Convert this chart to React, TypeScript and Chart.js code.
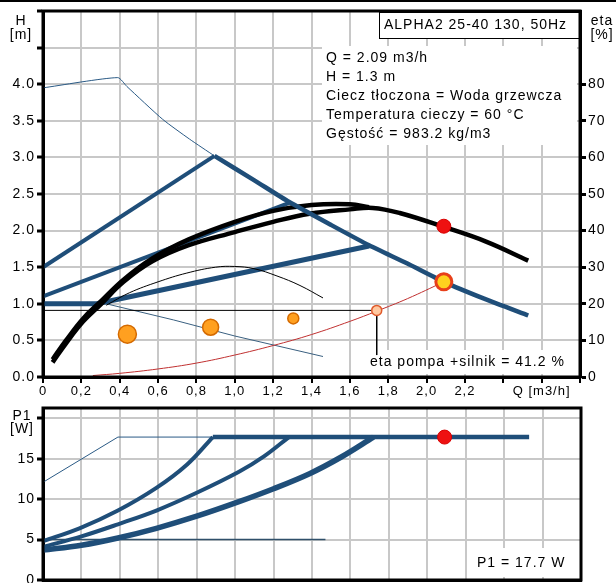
import React, { useEffect, useRef } from 'react';
import { Chart, registerables } from 'chart.js';
Chart.register(...registerables);

const FONT = "'Liberation Sans', Arial, sans-serif";
Chart.defaults.font.family = FONT;

// ---------- axes ----------
const Q_MIN = 0;
const Q_MAX = 2.8;
const Q_TICKS = [0, 0.2, 0.4, 0.6, 0.8, 1.0, 1.2, 1.4, 1.6, 1.8, 2.0, 2.2, 2.4, 2.6, 2.8];
const Q_LABELS = ['0', '0,2', '0,4', '0,6', '0,8', '1,0', '1,2', '1,4', '1,6', '1,8', '2,0', '2,2', '', 'Q [m3/h]', ''];
const H_MAX = 5;
const H_TICKS = [0, 0.5, 1, 1.5, 2, 2.5, 3, 3.5, 4, 4.5, 5];
const H_LABELS = ['0.0', '0.5', '1.0', '1.5', '2.0', '2.5', '3.0', '3.5', '4.0', '', ''];
const ETA_MAX = 100;
const ETA_TICKS = [0, 10, 20, 30, 40, 50, 60, 70, 80];
const ETA_LABELS = ['0', '10', '20', '30', '40', '50', '60', '70', '80'];
const P1_AXIS_MAX = 21.3;
const P1_TICKS = [0, 5, 10, 15, 20];
const P1_LABELS = ['0', '5', '10', '15', ''];

// ---------- texts ----------
const TITLE = 'ALPHA2 25-40 130, 50Hz';
const INFO_LINES = [
  'Q = 2.09 m3/h',
  'H = 1.3 m',
  'Ciecz tłoczona = Woda grzewcza',
  'Temperatura cieczy = 60 °C',
  'Gęstość = 983.2 kg/m3',
];
const ETA_TEXT = 'eta pompa +silnik = 41.2 %';
const P1_TEXT = 'P1 = 17.7 W';

// ---------- H(Q) curves ----------
const MAXC_Q = [0, 0.39, 0.437, 0.624, 0.764, 0.894];
const MAXC_H = [3.95, 4.09, 3.97, 3.52, 3.25, 3.02];
const PP_HIGH_Q = [0, 0.894];
const PP_HIGH_H = [1.5, 3.02];
const PP_MID_Q = [0, 1.284];
const PP_MID_H = [1.1, 2.38];
const PP_LOW_Q = [0, 0.28, 1.70];
const PP_LOW_H = [1.0, 1.0, 1.79];
const SPEED_Q = [0.894, 1.1, 1.284, 1.5, 1.70, 1.9, 2.09, 2.3, 2.53];
const SPEED_H = [3.02, 2.69, 2.39, 2.08, 1.80, 1.55, 1.30, 1.07, 0.84];
const MIN_Q = [0, 0.33, 0.68, 1.0, 1.46];
const MIN_H = [1.0, 1.0, 0.78, 0.56, 0.28];
const SYS_Q = [0.26, 0.4, 0.6, 0.8, 1.0, 1.2, 1.4, 1.6, 1.74, 1.9, 2.09];
const SYS_H = [0.02, 0.05, 0.11, 0.19, 0.3, 0.43, 0.58, 0.76, 0.9, 1.07, 1.3];
const REF_Q = [0, 1.74, 1.74];
const REF_H = [0.91, 0.91, 0.30];

// ---------- eta(Q) curves [%] ----------
const ETA_A_Q = [0.05, 0.12, 0.21, 0.3, 0.42, 0.57, 0.76, 1.0, 1.2, 1.4, 1.6, 1.7];
const ETA_A = [4.8, 10, 16, 20.6, 26.6, 32.4, 37.6, 42.4, 45.4, 47, 47.2, 46.4];
const ETA_B_Q = [0.05, 0.12, 0.21, 0.3, 0.42, 0.57, 0.76, 1.0, 1.2, 1.39, 1.6, 1.72, 1.86, 2.09, 2.31, 2.53];
const ETA_B = [4, 9.2, 15.2, 19.8, 26, 31.6, 36, 39.6, 42.4, 44.6, 45.8, 46.2, 44.8, 41, 37, 31.8];
const ETA_MIN_Q = [0.33, 0.45, 0.6, 0.75, 0.9, 1.0, 1.1, 1.22, 1.34, 1.46];
const ETA_MIN = [19.6, 23, 26, 28.4, 30, 30.2, 29.6, 27.6, 25, 21.6];

// ---------- markers ----------
const ORANGE_Q = [0.44, 0.874, 1.305];
const ORANGE_H = [0.585, 0.68, 0.8];
const ORANGE_R = [9, 8, 5.5];
const RING_Q = [1.74];
const RING_H = [0.91];
const OP_Q = [2.09];
const OP_H = [1.3];
const OP_ETA = [41.2];
const OP_P1 = [17.7];

// ---------- P1(Q) curves ----------
const P1_MAXC_Q = [0, 0.39, 0.884];
const P1_MAXC = [12.1, 17.7, 17.7];
const P1_FLAT_Q = [0.884, 2.53];
const P1_FLAT = [17.7, 17.7];
const P1_C1_Q = [0, 0.19, 0.39, 0.59, 0.75, 0.884];
const P1_C1 = [4.8, 6.4, 8.6, 11.4, 14.3, 17.7];
const P1_C2_Q = [0, 0.2, 0.39, 0.59, 0.8, 1.02, 1.15, 1.28];
const P1_C2 = [4.1, 5.4, 6.9, 8.6, 10.8, 13.4, 15.3, 17.7];
const P1_C3_Q = [0, 0.2, 0.39, 0.59, 0.8, 1.02, 1.2, 1.39, 1.55, 1.72];
const P1_C3 = [3.7, 4.3, 5.2, 6.4, 7.9, 9.7, 11.3, 13.2, 15.2, 17.7];
const P1_MIN_Q = [0, 1.47];
const P1_MIN = [5.0, 5.0];

const BLUE = '#1f4e79';
const GRID = '#c8c8c8';

const pts = (xs: number[], ys: number[]) => xs.map((x, i) => ({ x, y: ys[i] }));

const line = (data: any, color: string, width: number, order: number, extra: any = {}) => ({
  data,
  borderColor: color,
  backgroundColor: color,
  borderWidth: width,
  pointRadius: 0,
  fill: false,
  tension: 0,
  order,
  borderCapStyle: 'butt',
  borderJoinStyle: 'round',
  ...extra,
});

const frame = {
  id: 'frame',
  beforeDraw(chart: any) {
    chart.ctx.letterSpacing = '1px';
  },
  afterDatasetsDraw(chart: any) {
    const { ctx, chartArea: a } = chart;
    ctx.save();
    ctx.strokeStyle = '#000';
    ctx.lineWidth = 3;
    ctx.strokeRect(a.left, a.top, a.right - a.left, a.bottom - a.top);
    ctx.restore();
  },
};

const topText = {
  id: 'topText',
  beforeDatasetsDraw(chart: any) {
    const ctx = chart.ctx;
    ctx.save();
    ctx.fillStyle = '#fff';
    ctx.fillRect(322, 46, 255, 99);
    ctx.fillRect(366, 350, 211, 24);
    ctx.fillRect(379, 12, 200, 26);
    ctx.strokeStyle = '#000';
    ctx.lineWidth = 1;
    ctx.strokeRect(379.5, 12.5, 200, 26);
    ctx.fillStyle = '#000';
    ctx.font = `14px ${FONT}`;
    ctx.textBaseline = 'middle';
    ctx.textAlign = 'left';
    ctx.fillText(TITLE, 384, 25);
    INFO_LINES.forEach((t, i) => ctx.fillText(t, 326, 58 + i * 19));
    ctx.fillText(ETA_TEXT, 370, 362);
    ctx.textAlign = 'center';
    ctx.fillText('H', 21, 21);
    ctx.fillText('[m]', 21, 35);
    ctx.fillText('eta', 602, 21);
    ctx.fillText('[%]', 602, 35);
    ctx.restore();
  },
};

const bottomText = {
  id: 'bottomText',
  beforeDatasetsDraw(chart: any) {
    const ctx = chart.ctx;
    ctx.save();
    ctx.fillStyle = '#fff';
    ctx.fillRect(470, 148, 108, 29);
    ctx.fillStyle = '#000';
    ctx.font = `14px ${FONT}`;
    ctx.textBaseline = 'middle';
    ctx.textAlign = 'left';
    ctx.fillText(P1_TEXT, 477, 163);
    ctx.textAlign = 'center';
    ctx.fillText('P1', 22, 16);
    ctx.fillText('[W]', 22, 29);
    ctx.restore();
  },
};

const xScale = (showLabels: boolean, height: number) => ({
  type: 'linear',
  min: Q_MIN,
  max: Q_MAX,
  afterBuildTicks: (ax: any) => {
    ax.ticks = Q_TICKS.map((v) => ({ value: v }));
  },
  afterFit: (s: any) => {
    s.height = height;
    s.paddingLeft = 0;
    s.paddingRight = 0;
  },
  ticks: {
    display: showLabels,
    autoSkip: false,
    maxRotation: 0,
    padding: 1,
    color: '#000',
    font: { size: 13, family: FONT },
    callback: (_v: any, i: number) => Q_LABELS[i],
  },
  grid: { color: GRID, lineWidth: 2, tickColor: '#000', tickWidth: 2, tickLength: 6, drawTicks: showLabels },
  border: { display: true, color: '#000', width: 3 },
});

const yFit = (w: number) => (s: any) => {
  s.width = w;
  s.paddingTop = 0;
  s.paddingBottom = 0;
};

function TopChart() {
  const ref = useRef<HTMLCanvasElement>(null);
  useEffect(() => {
    const chart = new Chart(ref.current as HTMLCanvasElement, {
      type: 'line',
      data: {
        datasets: [
          line(pts(OP_Q, OP_H), '#e8401a', 3, 0, {
            showLine: false, pointRadius: 8, pointBackgroundColor: '#ffd21f', pointBorderColor: '#e8401a', pointBorderWidth: 3,
          }),
          line(pts(OP_Q, OP_ETA), '#e81010', 1, 0, {
            yAxisID: 'y2', showLine: false, pointRadius: 7, pointBackgroundColor: '#ee1111', pointBorderColor: '#d80000', pointBorderWidth: 1,
          }),
          line(pts(ORANGE_Q, ORANGE_H), '#d46a00', 1, 1, {
            showLine: false, pointRadius: ORANGE_R, pointBackgroundColor: '#ffa020', pointBorderColor: '#d46a00', pointBorderWidth: 1.5,
          }),
          line(pts(RING_Q, RING_H), '#e05a2a', 1, 1, {
            showLine: false, pointRadius: 5, pointBackgroundColor: '#ffc8a0', pointBorderColor: '#e05a2a', pointBorderWidth: 1.5,
          }),
          line(pts(SPEED_Q, SPEED_H), BLUE, 4.5, 2, { tension: 0.2 }),
          line(pts(ETA_A_Q, ETA_A), '#000', 4.5, 3, { yAxisID: 'y2', tension: 0.4 }),
          line(pts(ETA_B_Q, ETA_B), '#000', 4.5, 3, { yAxisID: 'y2', tension: 0.4 }),
          line(pts(ETA_MIN_Q, ETA_MIN), '#000', 1, 3, { yAxisID: 'y2', tension: 0.4 }),
          line(pts(SYS_Q, SYS_H), '#c03030', 1, 4, { tension: 0.4 }),
          line(pts(REF_Q, REF_H), '#000', 1, 5),
          line(pts(PP_HIGH_Q, PP_HIGH_H), BLUE, 4, 6),
          line(pts(PP_MID_Q, PP_MID_H), BLUE, 4, 6),
          line(pts(PP_LOW_Q, PP_LOW_H), BLUE, 5, 6),
          line(pts(MAXC_Q, MAXC_H), '#2a5a85', 1, 6, { tension: 0.2 }),
          line(pts(MIN_Q, MIN_H), '#3a6080', 1, 7),
        ] as any,
      },
      options: {
        responsive: false,
        animation: false,
        events: [],
        layout: { padding: { top: 11, left: 0, right: 0, bottom: 0 } },
        plugins: { legend: { display: false }, tooltip: { enabled: false } },
        scales: {
          x: xScale(true, 23) as any,
          y: {
            type: 'linear',
            position: 'left',
            min: 0,
            max: H_MAX,
            afterBuildTicks: (ax: any) => {
              ax.ticks = H_TICKS.map((v) => ({ value: v }));
            },
            afterFit: yFit(43),
            ticks: {
              autoSkip: false,
              padding: 2,
              color: '#000',
              font: { size: 14, family: FONT },
              callback: (_v: any, i: number) => H_LABELS[i],
            },
            grid: { color: GRID, lineWidth: 2, tickColor: '#000', tickWidth: 3, tickLength: 6 },
            border: { display: true, color: '#000', width: 3 },
          },
          y2: {
            type: 'linear',
            position: 'right',
            min: 0,
            max: ETA_MAX,
            afterBuildTicks: (ax: any) => {
              ax.ticks = ETA_TICKS.map((v) => ({ value: v }));
            },
            afterFit: yFit(36),
            ticks: {
              autoSkip: false,
              padding: 2,
              color: '#000',
              font: { size: 14, family: FONT },
              callback: (_v: any, i: number) => ETA_LABELS[i],
            },
            grid: { drawOnChartArea: false, tickColor: '#000', tickWidth: 3, tickLength: 6 },
            border: { display: true, color: '#000', width: 3 },
          },
        },
      } as any,
      plugins: [frame, topText],
    });
    return () => chart.destroy();
  }, []);
  return <canvas ref={ref} width={616} height={400} style={{ position: 'absolute', left: 0, top: 0, width: 616, height: 400 }} />;
}

function BottomChart() {
  const ref = useRef<HTMLCanvasElement>(null);
  useEffect(() => {
    const chart = new Chart(ref.current as HTMLCanvasElement, {
      type: 'line',
      data: {
        datasets: [
          line(pts(OP_Q, OP_P1), '#e81010', 1, 0, {
            showLine: false, pointRadius: 7, pointBackgroundColor: '#ee1111', pointBorderColor: '#d80000', pointBorderWidth: 1,
          }),
          line(pts(P1_FLAT_Q, P1_FLAT), BLUE, 4.5, 1),
          line(pts(P1_C1_Q, P1_C1), BLUE, 4, 1, { tension: 0.35 }),
          line(pts(P1_C2_Q, P1_C2), BLUE, 4, 1, { tension: 0.35 }),
          line(pts(P1_C3_Q, P1_C3), BLUE, 5.5, 1, { tension: 0.35 }),
          line(pts(P1_MAXC_Q, P1_MAXC), '#2a5a85', 1, 2),
          line(pts(P1_MIN_Q, P1_MIN), '#2f4f6a', 1.5, 2),
        ] as any,
      },
      options: {
        responsive: false,
        animation: false,
        events: [],
        layout: { padding: { top: 8, left: 0, right: 35, bottom: 0 } },
        plugins: { legend: { display: false }, tooltip: { enabled: false } },
        scales: {
          x: xScale(false, 20) as any,
          y: {
            type: 'linear',
            position: 'left',
            min: 0,
            max: P1_AXIS_MAX,
            afterBuildTicks: (ax: any) => {
              ax.ticks = P1_TICKS.map((v) => ({ value: v }));
            },
            afterFit: yFit(43),
            ticks: {
              autoSkip: false,
              padding: 2,
              color: '#000',
              font: { size: 14, family: FONT },
              callback: (_v: any, i: number) => P1_LABELS[i],
            },
            grid: { color: GRID, lineWidth: 2, tickColor: '#000', tickWidth: 3, tickLength: 6 },
            border: { display: true, color: '#000', width: 3 },
          },
        },
      } as any,
      plugins: [frame, bottomText],
    });
    return () => chart.destroy();
  }, []);
  return <canvas ref={ref} width={616} height={200} style={{ position: 'absolute', left: 0, top: 400, width: 616, height: 200 }} />;
}

export default function App() {
  return (
    <div style={{ position: 'fixed', left: 0, top: 0, width: 616, height: 583, background: '#fff', overflow: 'hidden' }}>
      <TopChart />
      <BottomChart />
      <div style={{ position: 'absolute', left: 0, top: 0, width: 616, height: 2, background: '#000' }} />
    </div>
  );
}
